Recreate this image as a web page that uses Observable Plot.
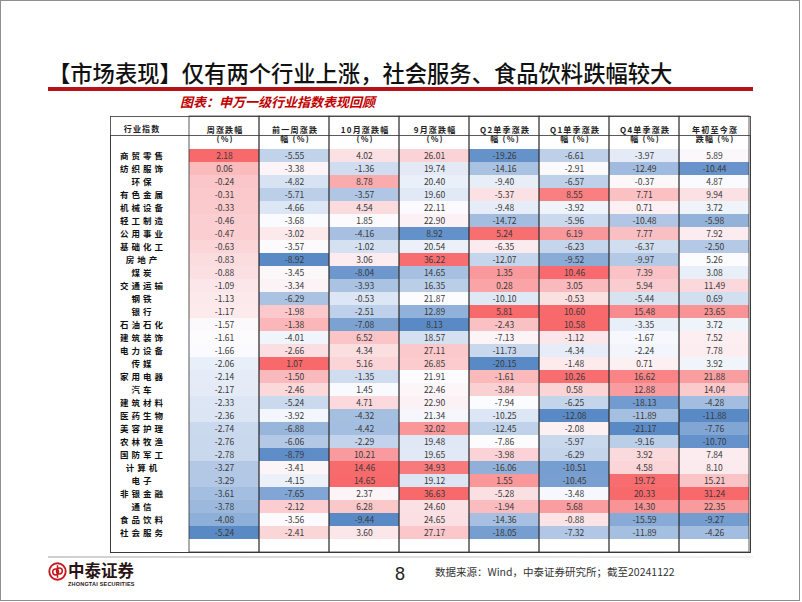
<!DOCTYPE html>
<html><head><meta charset="utf-8">
<script src="https://cdn.jsdelivr.net/npm/d3@7"></script>
<script src="https://cdn.jsdelivr.net/npm/@observablehq/plot@0.6"></script>
<style>
body{margin:0;background:#fff;}
#page{position:relative;width:802px;height:602px;overflow:hidden;font-family:"Noto Sans CJK SC",sans-serif;background:#fff;}
#border{position:absolute;left:0;top:0;width:798px;height:599px;border:1px solid #8f8f8f;}
#title{position:absolute;left:48px;top:57px;font-size:22.3px;line-height:30px;font-weight:500;color:#111;white-space:nowrap;}
#redline{position:absolute;left:48px;top:87px;width:705px;height:3.5px;background:#B5131C;}
#subtitle{position:absolute;left:180px;top:93px;font-size:13px;line-height:17px;font-weight:bold;font-style:italic;color:#C00000;white-space:nowrap;}
#chart{position:absolute;left:0;top:110px;}
#footline{position:absolute;left:48px;top:556px;width:705px;height:1.5px;background:linear-gradient(to right,#cfcfcf,#e2e2e2 60%,#f3f3f3);}
#logo{position:absolute;left:48px;top:562px;}
#brand{position:absolute;left:68px;top:561px;font-size:16.5px;line-height:18px;font-weight:bold;color:#2a1414;white-space:nowrap;}
#brandEn{position:absolute;left:68px;top:581px;font-family:"Liberation Sans",sans-serif;font-size:5.5px;line-height:6px;font-weight:bold;color:#2a1414;letter-spacing:0.2px;white-space:nowrap;}
#pagenum{position:absolute;left:392px;top:563px;width:16px;text-align:center;font-family:"Liberation Sans Narrow","Liberation Sans",sans-serif;font-size:18px;line-height:22px;color:#222;}
#source{position:absolute;left:435px;top:565px;font-size:10.5px;line-height:14px;color:#333;white-space:nowrap;}
g[aria-description="row-labels"] text{letter-spacing:3px;}
g[aria-description="header-labels"] text{letter-spacing:1.2px;}
</style>
</head><body>
<div id="page">
  <div id="border"></div>
  <div id="title">【市场表现】仅有两个行业上涨，社会服务、食品饮料跌幅较大</div>
  <div id="redline"></div>
  <div id="subtitle">图表：申万一级行业指数表现回顾</div>
  <div id="chart"></div>
  <div id="footline"></div>
  <svg id="logo" width="19" height="19" viewBox="0 0 19 19">
    <circle cx="9.5" cy="9.5" r="8.2" fill="none" stroke="#C8161D" stroke-width="1.9"/>
    <circle cx="7.6" cy="10" r="2.9" fill="none" stroke="#C8161D" stroke-width="1.5"/>
    <circle cx="11.4" cy="9" r="2.9" fill="none" stroke="#C8161D" stroke-width="1.5"/>
    <line x1="9.5" y1="3.2" x2="9.5" y2="15.8" stroke="#C8161D" stroke-width="1.5"/>
  </svg>
  <div id="brand">中泰证券</div>
  <div id="brandEn">ZHONGTAI SECURITIES</div>
  <div id="pagenum">8</div>
  <div id="source">数据来源：Wind，中泰证券研究所；截至20241122</div>
</div>
<script>
const industries = ["商贸零售","纺织服饰","环保","有色金属","机械设备","轻工制造","公用事业","基础化工","房地产","煤炭","交通运输","钢铁","银行","石油石化","建筑装饰","电力设备","传媒","家用电器","汽车","建筑材料","医药生物","美容护理","农林牧渔","国防军工","计算机","电子","非银金融","通信","食品饮料","社会服务"];

const columns = ["周涨跌幅","前一周涨跌幅","10月涨跌幅","9月涨跌幅","Q2单季涨跌幅","Q1单季涨跌幅","Q4单季涨跌幅","年初至今涨跌幅"];
const headerLabels = ["周涨跌幅\n(%)","前一周涨跌\n幅 (%)","10月涨跌幅\n(%)","9月涨跌幅\n(%)","Q2单季涨跌\n幅 (%)","Q1单季涨跌\n幅 (%)","Q4单季涨跌\n幅 (%)","年初至今涨\n跌幅 (%)"];
const rowHeader = "行业指数";

const weekChg = [2.18,0.06,-0.24,-0.31,-0.33,-0.46,-0.47,-0.63,-0.83,-0.88,-1.09,-1.13,-1.17,-1.57,-1.61,-1.66,-2.06,-2.14,-2.17,-2.33,-2.36,-2.74,-2.76,-2.78,-3.27,-3.29,-3.61,-3.78,-4.08,-5.24];
const prevWeekChg = [-5.55,-3.38,-4.82,-5.71,-4.66,-3.68,-3.02,-3.57,-8.92,-3.45,-3.34,-6.29,-1.98,-1.38,-4.01,-2.66,1.07,-1.50,-2.46,-5.24,-3.92,-6.88,-6.06,-8.79,-3.41,-4.15,-7.65,-2.12,-3.56,-2.41];
const octChg = [4.02,-1.36,8.78,-3.57,4.54,1.85,-4.16,-1.02,3.06,-8.04,-3.93,-0.53,-2.51,-7.08,6.52,4.34,5.16,-1.35,1.45,4.71,-4.32,-4.42,-2.29,10.21,14.46,14.65,2.37,6.28,-9.44,3.60];
const sepChg = [26.01,19.74,20.40,19.60,22.11,22.90,8.92,20.54,36.22,14.65,16.35,21.87,12.89,8.13,18.57,27.11,26.85,21.91,22.46,22.90,21.34,32.02,19.48,19.65,34.93,19.12,36.63,24.60,24.65,27.17];
const q2Chg = [-19.26,-14.16,-9.40,-5.37,-9.48,-14.72,5.24,-6.35,-12.07,1.35,0.28,-10.10,5.81,-2.43,-7.13,-11.73,-20.15,-1.61,-3.84,-7.94,-10.25,-12.45,-7.86,-3.98,-16.06,1.55,-5.28,-1.94,-14.36,-18.05];
const q1Chg = [-6.61,-2.91,-6.57,8.55,-3.92,-5.96,6.19,-6.23,-9.52,10.46,3.05,-0.53,10.60,10.58,-1.12,-4.34,-1.48,10.26,0.58,-6.25,-12.08,-2.08,-5.97,-6.29,-10.51,-10.45,-3.48,5.68,-0.88,-7.32];
const q4Chg = [-3.97,-12.49,-0.37,7.71,0.71,-10.48,7.77,-6.37,-9.97,7.39,5.94,-5.44,15.48,-3.35,-1.67,-2.24,0.71,16.62,12.88,-18.13,-11.89,-21.17,-9.16,3.92,4.58,19.72,20.33,14.30,-15.59,-11.89];
const ytdChg = [5.89,-10.44,4.87,9.94,3.72,-5.98,7.92,-2.50,5.26,3.08,11.49,0.69,23.65,3.72,7.52,7.78,3.92,21.88,14.04,-4.28,-11.88,-7.76,-10.70,7.84,8.10,15.21,31.24,22.35,-9.27,-4.26];

const series = [weekChg, prevWeekChg, octChg, sepChg, q2Chg, q1Chg, q4Chg, ytdChg];

// Per-column 3-colour scale (min → blue, median → white, max → red), like the spreadsheet's conditional format
const cells = [];
series.forEach((vals, ci) => {
  const mn = d3.min(vals), mx = d3.max(vals), md = d3.quantile(vals, 0.5);
  vals.forEach((v, ri) => {
    const t = v < md ? (v - md) / (md - mn) : (mx === md ? 0 : (v - md) / (mx - md));
    cells.push({col: columns[ci], industry: industries[ri], value: v, t});
  });
});

const labelColW = 78;   // width of the industry-name column (left of the frame)
const headerH = 19;     // header row height (above the frame)
const labelOffset = -47; // centre of the industry names relative to the frame's left edge

const chart = Plot.plot({
  width: 802,
  height: 444,
  marginLeft: 188,
  marginRight: 52,
  marginTop: 25,
  marginBottom: 2,
  x: {type: "band", domain: columns, padding: 0, axis: null},
  y: {type: "band", domain: industries, padding: 0, axis: null},
  color: {type: "linear", domain: [-1, 0, 1], range: ["#5A8AC6", "#FCFCFF", "#F8696B"], interpolate: "rgb"},
  style: {fontFamily: "'Noto Sans CJK SC', sans-serif", background: "transparent", color: "#222"},
  marks: [
    Plot.cell(cells, {x: "col", y: "industry", fill: "t"}),
    Plot.text(cells, {x: "col", y: "industry", text: d => d.value.toFixed(2), fontSize: 8.5, fill: "#3a3a3a"}),
    // column borders, extended upward through the header row
    Plot.cell(columns, {x: d => d, fill: "none", stroke: "#333", strokeWidth: 0.8, insetTop: -headerH}),
    // outer border including the label column and header
    Plot.frame({stroke: "#333", strokeWidth: 0.8, insetLeft: -labelColW, insetTop: -headerH}),
    // header bottom line
    Plot.frame({stroke: "#333", strokeWidth: 0.8, insetLeft: -labelColW}),
    // header labels
    Plot.text(columns, {x: d => d, text: (d, i) => headerLabels[i], frameAnchor: "top", dy: -headerH / 2, dx: 0.6, lineHeight: 1.2, fontSize: 8, fontWeight: "bold", fill: "#222", ariaDescription: "header-labels"}),
    Plot.text([rowHeader], {text: d => d, frameAnchor: "top-left", dx: labelOffset + 0.6, dy: -headerH / 2, textAnchor: "middle", fontSize: 8, fontWeight: "bold", fill: "#222", ariaDescription: "header-labels"}),
    // industry names
    Plot.text(industries, {y: d => d, text: d => d, frameAnchor: "left", dx: labelOffset + 1.5, textAnchor: "middle", fontSize: 8.5, fontWeight: "bold", fill: "#111", ariaDescription: "row-labels"})
  ]
});
document.getElementById("chart").appendChild(chart);
</script>
</body></html>
